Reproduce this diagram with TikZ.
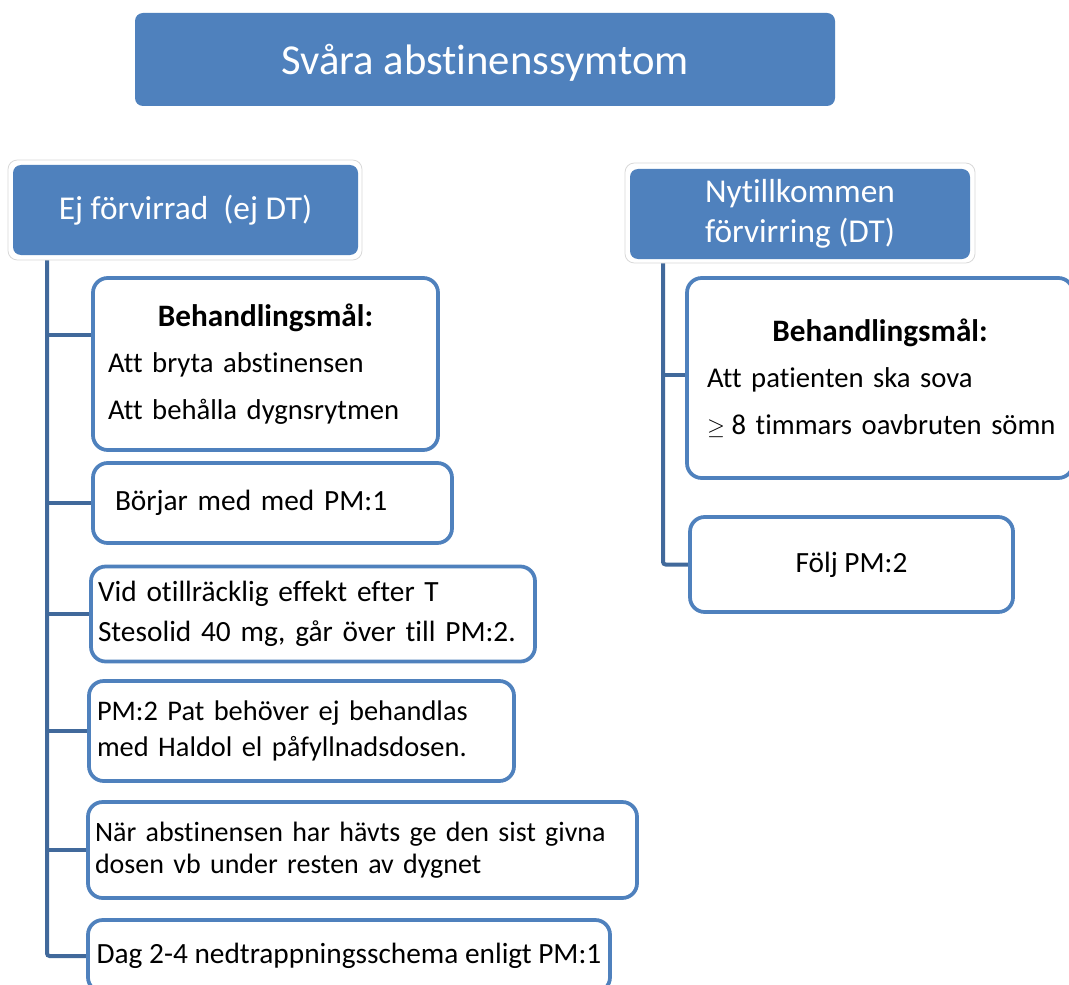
\documentclass[tikz,border=0pt]{standalone}
\usepackage{fontspec}
\setmainfont{Carlito}[Ligatures={NoCommon}]
\usetikzlibrary{backgrounds}
\definecolor{boxblue}{HTML}{4F81BD}
\definecolor{connblue}{HTML}{41699B}
\definecolor{framegray}{HTML}{D9D9D9}
\begin{document}
\begin{tikzpicture}[x=0.75pt,y=-0.75pt,
  hdr/.style={fill=boxblue, draw=none, rounded corners=6pt, text=white, align=center, inner sep=0pt},
  cbox/.style={draw=boxblue, line width=2.8pt, fill=white, rounded corners=11pt, align=left, inner ysep=0pt, font=\fontsize{22}{30}\selectfont},
  conn/.style={draw=connblue, line width=3pt, rounded corners=2pt},
  hdrframe/.style={draw=framegray, line width=0.6pt, rounded corners=7pt, fill=white}]
\useasboundingbox (0,0) rectangle (1069,984);

% header frames
\draw[hdrframe] (8,160) rectangle (362,260);
\draw[hdrframe] (625,163) rectangle (975,263);

% headers
\node[hdr, minimum width=525pt, minimum height=69.75pt, text depth=0pt, font=\fontsize{32}{38}\selectfont] (top) at (485,59.5) {Svåra abstinenssymtom};
\node[hdr, minimum width=258.75pt, minimum height=67.5pt, font=\fontsize{25}{30}\selectfont] (lh) at (185.5,210) {Ej förvirrad\ \ (ej DT)};
\node[hdr, minimum width=255pt, minimum height=67.5pt, font=\fontsize{25}{30}\selectfont] (rh) at (800,214) {Nytillkommen\\förvirring (DT)};

% left column
\node[cbox, text width=236.25pt, inner xsep=11.25pt, minimum height=129pt, font=\fontsize{21.5}{35}\selectfont] (L1) at (265.5,364)
  {\makebox[236.25pt]{\fontsize{23.4}{35}\selectfont\bfseries Behandlingsmål:}\\\mbox{Att bryta abstinensen}\\\mbox{Att behålla dygnsrytmen}};
\node[cbox, text width=236.25pt, inner xsep=16.5pt, minimum height=60pt] (L2) at (272.5,503) {\mbox{Börjar med med PM:1}};
\node[cbox, text width=322.5pt, inner xsep=5.25pt, minimum height=71.25pt, font=\fontsize{22}{30}\selectfont] (L3) at (313,614)
  {\mbox{Vid otillräcklig effekt efter T}\\\mbox{Stesolid 40 mg, går över till PM:2.}};
\node[cbox, text width=306.75pt, inner xsep=6pt, minimum height=75pt, font=\fontsize{21.3}{27}\selectfont] (L4) at (301.5,731)
  {\mbox{PM:2 Pat behöver ej behandlas}\\\mbox{med Haldol el påfyllnadsdosen.}};
\node[cbox, text width=401.25pt, inner xsep=5.25pt, minimum height=72pt, font=\fontsize{21}{24}\selectfont] (L5) at (362.5,850)
  {\mbox{När abstinensen har hävts ge den sist givna}\\\mbox{dosen vb under resten av dygnet}};
\node[cbox, minimum width=391.5pt, minimum height=54pt] (L6) at (349,956) {Dag 2-4 nedtrappningsschema enligt PM:1};

% right column
\node[cbox, text width=259.5pt, inner xsep=15pt, minimum height=150pt, font=\fontsize{21.5}{35}\selectfont] (R1) at (880,378)
  {\makebox[259.5pt]{\fontsize{23.4}{35}\selectfont\bfseries Behandlingsmål:}\\\mbox{Att patienten ska sova}\\\mbox{{\fontsize{19}{19}\selectfont$\geq$}\hspace{5pt}8 timmars oavbruten sömn}};
\node[cbox, minimum width=242.25pt, minimum height=71.25pt] (R2) at (851.5,564.5) {Följ PM:2};

% connectors
\begin{scope}[on background layer]
\fill[white] (0,0) rectangle (1069,984);
\coordinate (lt) at (47,260);
\coordinate (b1) at (47,335);
\draw[conn] (lt) |- (L6.west);
\draw[conn] (b1) -- (b1 -| L1.west);
\draw[conn] (lt |- L2.west) -- (L2.west);
\draw[conn] (lt |- L3.west) -- (L3.west);
\draw[conn] (lt |- L4.west) -- (L4.west);
\draw[conn] (lt |- L5.west) -- (L5.west);
\coordinate (rt) at (663,263);
\coordinate (b2) at (663,375);
\draw[conn] (rt) |- (R2.west);
\draw[conn] (b2) -- (b2 -| R1.west);
\end{scope}
\end{tikzpicture}
\end{document}
